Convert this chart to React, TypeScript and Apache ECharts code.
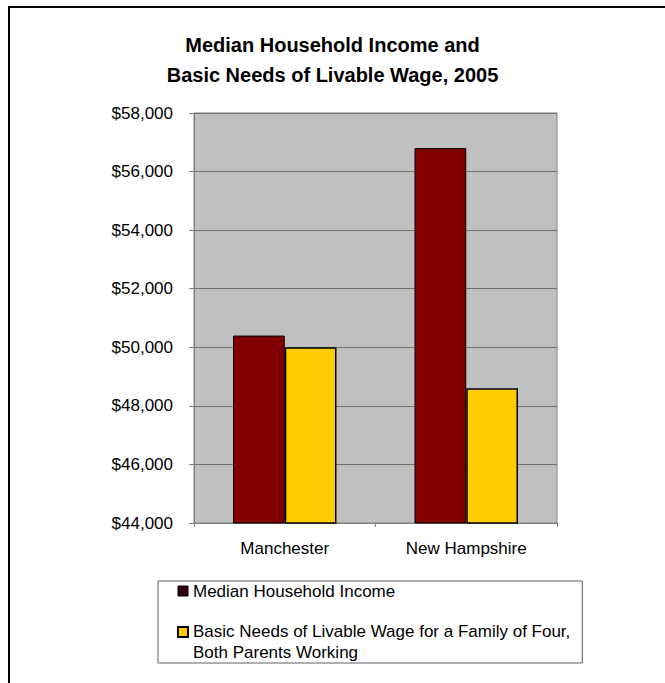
import React, { useEffect, useRef } from "react";
import * as echarts from "echarts";

const categories = ["Manchester", "New Hampshire"];
const medianIncome = [50400, 56800];
const livableWage = [50000, 48600];
const seriesNames = [
  "Median Household Income",
  "Basic Needs of Livable Wage for a Family of Four,\nBoth Parents Working",
];
const titleText = "Median Household Income and\nBasic Needs of Livable Wage, 2005";
const yMin = 44000;
const yMax = 58000;
const yStep = 2000;

const FONT = "'Liberation Sans', Arial, sans-serif";

export default function App() {
  const ref = useRef<HTMLDivElement>(null);
  useEffect(() => {
    if (!ref.current) return;
    const chart = echarts.init(ref.current, undefined, { renderer: "svg" });
    chart.setOption({
      animation: false,
      backgroundColor: "#ffffff",
      textStyle: { fontFamily: FONT },
      title: {
        text: titleText,
        left: "center",
        top: 25,
        textStyle: {
          fontFamily: FONT,
          fontSize: 20,
          fontWeight: "bold",
          color: "#000",
          lineHeight: 30,
        },
      },
      graphic: [
        {
          type: "rect",
          shape: { x: 9, y: 7, width: 720, height: 720 },
          style: { fill: "none", stroke: "#000", lineWidth: 2 },
          silent: true,
          z: -1,
        },
      ],
      legend: {
        orient: "vertical",
        left: 158,
        top: 581,
        height: 200,
        padding: [0, 12, 0, 19],
        itemGap: 0,
        itemWidth: 10,
        itemHeight: 10,
        borderColor: "#606060",
        borderWidth: 1,
        backgroundColor: "#fff",
        textStyle: {
          fontFamily: FONT,
          fontSize: 17,
          color: "#000",
          lineHeight: 20,
          rich: {
            s: { fontSize: 17, lineHeight: 20, height: 20 },
            t: { fontFamily: FONT, fontSize: 17, color: "#000", lineHeight: 21 },
          },
        },
        formatter: (name: string) => {
          const parts = name.split("\n");
          if (parts.length === 1) return name;
          return "{s| }\n" + parts.map((p) => "{t|" + p + "}").join("\n");
        },
        data: [
          {
            name: seriesNames[0],
            icon: "rect",
            itemStyle: { color: "#2e0010", borderColor: "#000", borderWidth: 1 },
          },
          {
            name: seriesNames[1],
            icon: "rect",
            itemStyle: { color: "#FFCC00", borderColor: "#000", borderWidth: 2 },
          },
        ],
      },
      grid: {
        left: 194,
        right: 108,
        top: 113,
        bottom: 160,
        show: true,
        backgroundColor: "#C0C0C0",
        borderColor: "#808080",
        borderWidth: 1,
      },
      xAxis: {
        type: "category",
        data: categories,
        axisLine: { lineStyle: { color: "#808080" } },
        axisTick: { show: true, length: 4, alignWithLabel: false, lineStyle: { color: "#808080" } },
        axisLabel: { fontFamily: FONT, fontSize: 17, color: "#000", margin: 17 },
      },
      yAxis: {
        type: "value",
        min: yMin,
        max: yMax,
        interval: yStep,
        axisLine: { show: true, lineStyle: { color: "#808080" } },
        axisTick: { show: true, length: 5, lineStyle: { color: "#808080" } },
        splitLine: { show: true, lineStyle: { color: "#707070", width: 1 } },
        axisLabel: {
          fontFamily: FONT,
          fontSize: 17,
          color: "#000",
          margin: 21,
          formatter: (v: number) => "$" + v.toLocaleString("en-US"),
        },
      },
      series: [
        {
          name: seriesNames[0],
          type: "bar",
          data: medianIncome,
          barGap: "0%",
          barCategoryGap: "43%",
          itemStyle: { color: "#800000", borderColor: "#000", borderWidth: 1 },
        },
        {
          name: seriesNames[1],
          type: "bar",
          data: livableWage,
          barGap: "0%",
          barCategoryGap: "43%",
          itemStyle: { color: "#FFCC00", borderColor: "#000", borderWidth: 1.5 },
        },
      ],
    });
    return () => chart.dispose();
  }, []);
  return (
    <div
      ref={ref}
      style={{ position: "fixed", left: 0, top: 0, width: 665, height: 683 }}
    />
  );
}
